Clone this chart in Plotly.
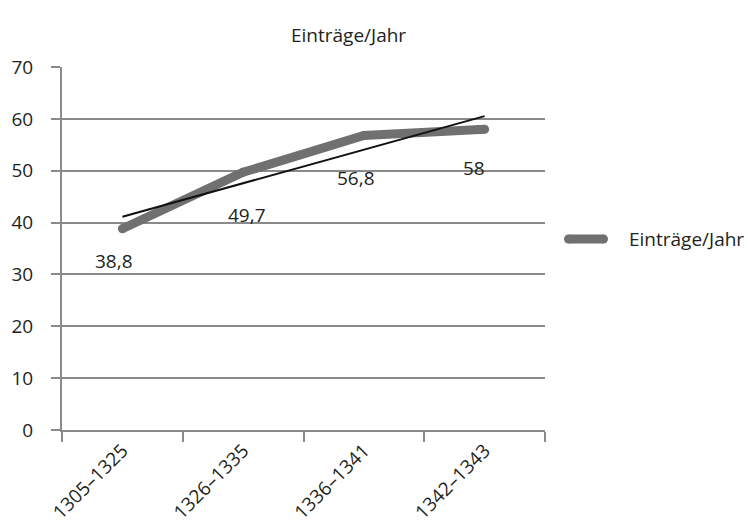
import numpy as np
import plotly.graph_objects as go

# Entries per year, by period
periods = ["1305–1325", "1326–1335", "1336–1341", "1342–1343"]
entries = [38.8, 49.7, 56.8, 58]
value_labels = ["38,8", "49,7", "56,8", "58"]

series_name = "Einträge/Jahr"
title_text = "Einträge/Jahr"

y_ticks = [0, 10, 20, 30, 40, 50, 60, 70]

# label offsets in px (x right, y down) relative to each point
label_dx = [-8, 4, -8, -11]
label_dy = [32, 43, 43, 39]

FONT = "Open Sans"
FS = 19
TEXT = "#231f20"
GRID = "#8a8a8a"
LINE = "#707071"
LW = 9

W, H = 748, 527
ML, MR, MT, MB = 62, 203, 67, 97
PW, PH = W - ML - MR, H - MT - MB


def px_x(px):
    """pixel column -> paper x"""
    return (px - ML) / PW


def px_y(py):
    """pixel row (from top) -> paper y"""
    return (H - MB - py) / PH


# linear trend over the period index
idx = np.arange(len(entries))
slope, intercept = np.polyfit(idx, entries, 1)
trend = slope * idx + intercept

fig = go.Figure()
fig.add_trace(go.Scatter(
    x=periods, y=entries, mode="lines+markers", name=series_name,
    line=dict(color=LINE, width=LW),
    marker=dict(color=LINE, size=LW),
    showlegend=False,
))
fig.add_trace(go.Scatter(
    x=periods, y=trend, mode="lines", showlegend=False,
    line=dict(color="#111111", width=2),
    hoverinfo="skip",
))

for p, v, t, dx, dy in zip(periods, entries, value_labels, label_dx, label_dy):
    fig.add_annotation(x=p, y=v, text=t, showarrow=False, xshift=dx, yshift=-dy,
                       font=dict(family=FONT, size=FS, color=TEXT))

fig.add_annotation(xref="paper", yref="paper", x=px_x(348), y=px_y(20), text=title_text,
                   showarrow=False, font=dict(family=FONT, size=FS, color=TEXT))

# legend key: thick rounded stroke + series name
lx0, lx1, ly = 568.5, 603.5, 239
fig.add_shape(type="line", xref="paper", yref="paper",
              x0=px_x(lx0), x1=px_x(lx1), y0=px_y(ly), y1=px_y(ly),
              line=dict(color=LINE, width=LW))
for cx in (lx0, lx1):
    fig.add_shape(type="circle", xref="paper", yref="paper",
                  x0=px_x(cx - LW / 2), x1=px_x(cx + LW / 2),
                  y0=px_y(ly + LW / 2), y1=px_y(ly - LW / 2),
                  line=dict(width=0), fillcolor=LINE)
fig.add_annotation(xref="paper", yref="paper", x=px_x(627), y=px_y(ly),
                   xanchor="left", yanchor="middle", text=series_name, showarrow=False,
                   font=dict(family=FONT, size=FS, color=TEXT))

fig.update_layout(
    width=W, height=H,
    margin=dict(l=ML, r=MR, t=MT, b=MB),
    paper_bgcolor="white", plot_bgcolor="white",
    font=dict(family=FONT, size=FS, color=TEXT),
    showlegend=False,
    xaxis=dict(
        type="category", range=[-0.5, 3.5], tickson="boundaries",
        ticks="outside", ticklen=10, tickwidth=2, tickcolor=GRID,
        showline=True, linecolor=GRID, linewidth=2, showgrid=False,
        tickangle=-45, automargin=False,
        tickfont=dict(family=FONT, size=FS, color=TEXT),
    ),
    yaxis=dict(
        range=[0, 70], tickvals=y_ticks, ticks="outside", ticklen=9, tickwidth=2,
        tickcolor=GRID, showline=True, linecolor=GRID, linewidth=2,
        showgrid=True, gridcolor=GRID, gridwidth=2, zeroline=False,
        ticklabelstandoff=14, automargin=False,
        tickfont=dict(family=FONT, size=FS, color=TEXT),
    ),
)

fig.write_html("out.html")
